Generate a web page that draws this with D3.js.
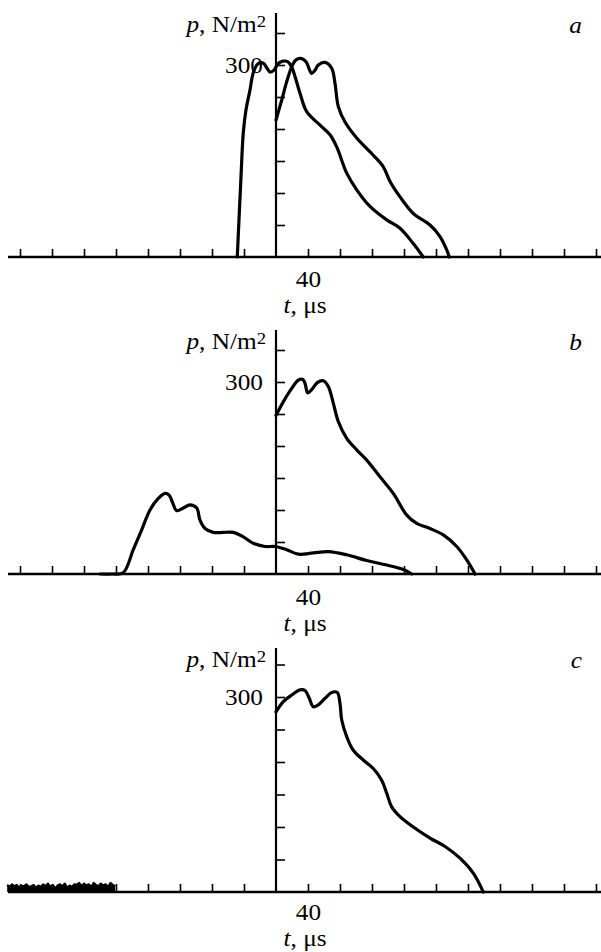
<!DOCTYPE html>
<html>
<head>
<meta charset="utf-8">
<script src="https://cdn.jsdelivr.net/npm/d3@7"></script>
<style>
  body { margin: 0; background: #fff; }
  svg text { font-family: "Liberation Serif", "Times New Roman", serif; fill: #000; }
</style>
</head>
<body>
<svg id="chart" width="601" height="952"></svg>
<script>
// t in µs, p in N/m^2

// panel a, left (earlier) pulse
const tA = [31.16, 31.59, 31.91, 32.25, 32.75, 33.16, 33.75, 34.38, 34.88, 35.25, 35.75, 36.25, 36.88, 37.5, 37.96, 39, 39.84, 41.5, 42.75, 43.59, 44.84, 46.09, 47.75, 49.84, 51.5, 53.16, 54.41];
const pA = [0, 116, 194, 230, 261, 288, 302, 303, 295, 289, 292, 302, 306, 305, 297, 256, 227, 206, 191, 172, 131, 105, 79, 58, 45, 21, 0];
// panel a, right pulse
const tB = [36, 36.71, 37.34, 37.96, 38.5, 39.21, 39.75, 40.46, 40.88, 41.29, 42.13, 42.96, 43.38, 43.79, 44.63, 46.09, 48.16, 49.41, 50.25, 51.5, 53.16, 55.25, 56.5, 57.34, 57.66];
const pB = [214, 245, 274, 297, 308, 310, 305, 287, 292, 300, 304, 295, 271, 235, 211, 186, 159, 141, 118, 94, 68, 50, 32, 11, 0];

// panel b, big pulse
const tC = [36, 36.91, 37.96, 38.79, 39.34, 39.63, 39.96, 40.46, 41.16, 41.91, 42.54, 43.16, 43.79, 44.84, 46.09, 47.34, 49, 50.66, 52.34, 53.59, 55.25, 56.91, 58.59, 59.84, 60.88];
const pC = [248, 269, 290, 303, 304, 298, 283, 288, 299, 302, 293, 267, 238, 212, 194, 178, 152, 126, 92, 79, 71, 61, 43, 22, 0];
// panel b, small pulse
const tD = [14, 15.5, 16.9, 18.16, 19.21, 20.25, 21.29, 22.13, 22.66, 23.09, 23.59, 24.41, 25.25, 26.09, 26.5, 27.13, 28.16, 29.41, 30.66, 31.91, 33.16, 34.63, 35.88, 37.34, 38.79, 40.66, 42.54, 44.84, 47.34, 49.84, 51.91, 52.96];
const pD = [0, 0, 2, 38, 69, 100, 118, 126, 123, 111, 99, 103, 108, 103, 84, 71, 65, 65, 65, 58, 48, 43, 43, 38, 31, 33, 35, 30, 21, 14, 7, 0];

// panel c, pulse
const tE = [36, 36.91, 37.96, 39, 39.63, 40.16, 40.66, 41.29, 42.13, 42.96, 43.66, 44, 44.21, 44.84, 45.66, 46.91, 48.16, 49.21, 49.84, 50.46, 51.5, 53.16, 55.25, 57.13, 59, 60.66, 61.91];
const pE = [277, 293, 303, 311, 310, 298, 285, 288, 298, 307, 307, 290, 265, 239, 218, 203, 190, 172, 152, 131, 116, 100, 83, 70, 52, 29, 0];
// panel c, noise near zero at the far left
const tN = [2.4, 2.7, 3.0, 3.3, 3.6, 3.9, 4.2, 4.5, 4.8, 5.1, 5.4, 5.7, 6.0, 6.3, 6.6, 6.9, 7.2, 7.5, 7.8, 8.1, 8.4, 8.7, 9.0, 9.3, 9.6, 9.9, 10.2, 10.5, 10.8, 11.1, 11.4, 11.7, 12.0, 12.3, 12.6, 12.9, 13.2, 13.5, 13.8, 14.1, 14.4, 14.7, 15.0, 15.3, 15.6, 15.9];
const pN = [11, 8, 12, 9, 11, 7, 10, 9, 12, 8, 9, 11, 7, 10, 8, 12, 9, 13, 8, 11, 6, 10, 12, 9, 13, 7, 10, 8, 12, 11, 14, 9, 13, 10, 12, 8, 14, 11, 9, 13, 10, 12, 8, 14, 11, 9];

// ticks
const xTicks = [4, 8, 12, 16, 20, 24, 28, 32, 40, 44, 48, 52, 56, 60, 64, 68, 72, 76];
const xLabels = [40];
const yTicks = [50, 100, 150, 200, 250, 300, 350];
const yLabels = [300];
const panelLetters = ["a", "b", "c"];

// layout
const panels = [
  { base: 257, unit: 32, top: 244, lab: 0, series: [[tA, pA], [tB, pB]] },
  { base: 574, unit: 32, top: 244, lab: 1, series: [[tD, pD], [tC, pC]] },
  { base: 892, unit: 32.5, top: 244, lab: -2, series: [[tE, pE]], noise: [tN, pN] }
];
const axisX = 276;
const stretch = 1.1;   // the scanned type is a bit wide
const fontSize = 23;

const svg = d3.select("#chart");
const x = d3.scaleLinear().domain([2.5, 76.625]).range([8, 601]);

panels.forEach((pn, i) => {
  const y = d3.scaleLinear().domain([0, 50]).range([pn.base, pn.base - pn.unit]);
  const g = svg.append("g").attr("class", "panel-" + panelLetters[i]);

  // x axis
  const gx = g.append("g")
    .attr("transform", `translate(0,${pn.base})`)
    .call(d3.axisBottom(x)
      .tickValues(xTicks)
      .tickSizeInner(-8)
      .tickSizeOuter(0)
      .tickFormat(d => xLabels.includes(d) ? d : ""));
  gx.select(".domain").remove();
  gx.attr("font-family", null).attr("font-size", null);
  gx.selectAll(".tick line").attr("stroke-width", 1.6);
  gx.selectAll(".tick text")
    .attr("y", 30 + pn.lab)
    .attr("dy", null)
    .style("font-size", fontSize + "px")
    .attr("transform", `scale(${stretch},1)`);

  // y axis
  const gy = g.append("g")
    .attr("transform", `translate(${axisX},0)`)
    .call(d3.axisLeft(y)
      .tickValues(yTicks)
      .tickSizeInner(-9)
      .tickSizeOuter(0)
      .tickPadding(13 / stretch)
      .tickFormat(d => yLabels.includes(d) ? d : ""));
  gy.select(".domain").remove();
  gy.attr("font-family", null).attr("font-size", null);
  gy.selectAll(".tick line").attr("stroke-width", 1.6);
  gy.selectAll(".tick text")
    .style("font-size", fontSize + "px")
    .attr("transform", `scale(${stretch},1)`);

  // axis lines
  g.append("line")
    .attr("x1", 8).attr("x2", 601)
    .attr("y1", pn.base).attr("y2", pn.base)
    .attr("stroke", "#000").attr("stroke-width", 2.4);
  g.append("line")
    .attr("x1", axisX).attr("x2", axisX)
    .attr("y1", pn.base).attr("y2", pn.base - pn.top)
    .attr("stroke", "#000").attr("stroke-width", 2.2);

  // noise blob
  if (pn.noise) {
    const nd = d3.zip(pn.noise[0], pn.noise[1]);
    g.append("path")
      .datum(nd)
      .attr("fill", "#000")
      .attr("d", d3.area().x(d => x(d[0])).y0(y(0)).y1(d => y(d[1])));
    g.append("path")
      .datum(nd)
      .attr("fill", "none")
      .attr("stroke", "#000")
      .attr("stroke-width", 2)
      .attr("stroke-linejoin", "round")
      .attr("d", d3.line().x(d => x(d[0])).y(d => y(d[1])));
  }

  // curves
  const line = d3.line()
    .x(d => x(d[0]))
    .y(d => y(d[1]))
    .curve(d3.curveCatmullRom.alpha(0.5));
  pn.series.forEach(s => {
    g.append("path")
      .datum(d3.zip(s[0], s[1]))
      .attr("fill", "none")
      .attr("stroke", "#000")
      .attr("stroke-width", 3.2)
      .attr("stroke-linejoin", "round")
      .attr("stroke-linecap", "round")
      .attr("d", line);
  });

  // y title
  const yt = g.append("g")
    .attr("transform", `translate(266,${pn.base - 225}) scale(${stretch},1)`)
    .append("text")
    .attr("text-anchor", "end")
    .style("font-size", fontSize + "px");
  yt.append("tspan").attr("font-style", "italic").text("p");
  yt.append("tspan").text(", N/m");
  yt.append("tspan").attr("dy", -5).style("font-size", "17px").text("2");

  // x title
  const xt = g.append("g")
    .attr("transform", `translate(305,${pn.base + 56 + pn.lab}) scale(${stretch},1)`)
    .append("text")
    .attr("text-anchor", "middle")
    .style("font-size", fontSize + "px");
  xt.append("tspan").attr("font-style", "italic").text("t");
  xt.append("tspan").text(", μs");

  // panel letter
  g.append("g")
    .attr("transform", `translate(582,${pn.base - 224}) scale(${stretch},1)`)
    .append("text")
    .attr("text-anchor", "end")
    .attr("font-style", "italic")
    .style("font-size", fontSize + "px")
    .text(panelLetters[i]);
});
</script>
</body>
</html>
